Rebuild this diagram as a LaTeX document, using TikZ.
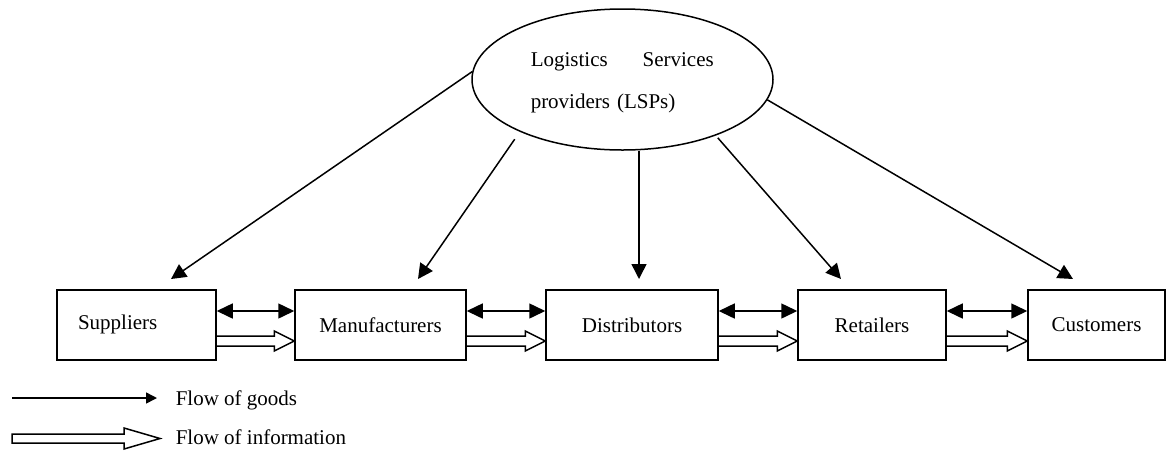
\documentclass[tikz,border=0pt]{standalone}
\usepackage{fontspec}
\setmainfont{Liberation Serif}
\usetikzlibrary{shapes.geometric,arrows.meta,calc}
\newcommand\infoarr[2]{%
  \draw[info] ($(#1.east)+(0,11)$) -- ($(#2.west)+(-20,11)$) -- ($(#2.west)+(-20,6)$)
    -- ($(#2.west)+(0,16)$) -- ($(#2.west)+(-20,26)$) -- ($(#2.west)+(-20,21)$)
    -- ($(#1.east)+(0,21)$);}
\newcommand\bothway[2]{%
  \draw[both] ($(#1.east)+(0,-14)$) -- ($(#2.west)+(0,-14)$);}
\begin{document}
\begin{tikzpicture}[x=1pt,y=-1pt,line width=1.5pt,
  box/.style={draw, line width=1.5pt, minimum height=70pt, inner sep=0pt,
    font=\fontsize{21}{25}\selectfont},
  goods/.style={-{Triangle[length=15pt,width=15pt]}, line width=1.5pt},
  goodsleg/.style={-{Triangle[length=11pt,width=11pt]}, line width=1.5pt},
  both/.style={{Triangle[length=16pt,width=15pt]}-{Triangle[length=16pt,width=15pt]}, line width=1.5pt},
  info/.style={draw, line width=1.5pt, line join=miter},
  lab/.style={font=\fontsize{21}{25}\selectfont, inner sep=0pt, anchor=base west}]
\useasboundingbox (0,0) rectangle (1167,451);

% ellipse
\node[draw, ellipse, minimum width=301pt, minimum height=141pt, inner sep=0pt]
  (lsp) at (622.5,79.5) {};
\node[text width=183pt, align=left, inner sep=0pt, anchor=base west,
  font=\fontsize{21}{42}\selectfont]
  (lspt) at (530,66) {Logistics\hfill Services\\providers (LSPs)};

% boxes
\node[box, minimum width=159pt, text width=117pt, inner xsep=21pt, align=left] (sup) at (136.5,325) {\raisebox{5pt}{Suppliers}};
\node[box, minimum width=171pt] (man) at (380.5,325) {Manufacturers};
\node[box, minimum width=172pt] (dis) at (632,325) {Distributors};
\node[box, minimum width=148pt] (ret) at (872,325) {Retailers};
\node[box, minimum width=137pt] (cus) at (1096.5,325) {Customers};

% arrow targets
\coordinate (t1) at (171,279);
\coordinate (t2) at (418,279);
\coordinate (t3) at (639,279);
\coordinate (t4) at (841,279);
\coordinate (t5) at (1073,279);

\draw[goods] (lsp.177.1) -- (t1);
\draw[goods, shorten <=9pt] (lsp.207.3) -- (t2);
\draw[goods] (lsp.south -| t3) -- (t3);
\draw[goods, shorten <=3pt] (lsp.329.65) -- (t4);
\draw[goods] (lsp.352.6) -- (t5);

% between boxes
\bothway{sup}{man}
\bothway{man}{dis}
\bothway{dis}{ret}
\bothway{ret}{cus}
\infoarr{sup}{man}
\infoarr{man}{dis}
\infoarr{dis}{ret}
\infoarr{ret}{cus}

% legend
\coordinate (g1) at (12,398);
\coordinate (g2) at (157,398);
\draw[goodsleg] (g1) -- (g2);
\node[lab] (gt) at (175,405) {Flow of goods};

\coordinate (i1) at (12,438.5);
\coordinate (i2) at (160,438.5);
\draw[info] ($(i1)+(0,-4.5)$) -- ($(i2)+(-36,-4.5)$) -- ($(i2)+(-36,-10.5)$) -- (i2)
  -- ($(i2)+(-36,10.5)$) -- ($(i2)+(-36,4.5)$) -- ($(i1)+(0,4.5)$) -- cycle;
\node[lab] (it) at (175,444) {Flow of information};
\end{tikzpicture}
\end{document}
